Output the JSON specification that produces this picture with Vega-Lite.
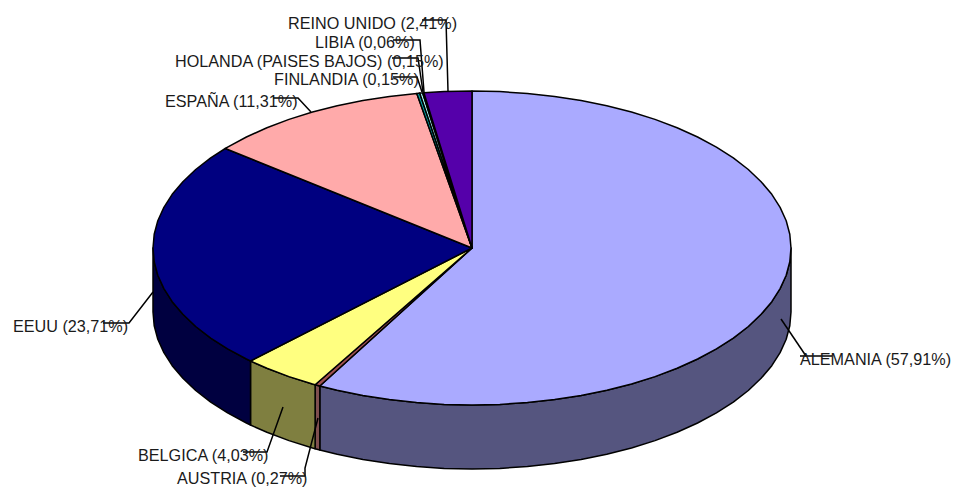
{"$schema":"https://vega.github.io/schema/vega-lite/v6.json","width":956,"height":491,"padding":0,"autosize":{"type":"fit","contains":"padding"},"background":"white","view":{"stroke":null},
"datasets":{
"faces":[
{"part":"ALEMANIA lateral","x":791,"y":248},{"part":"ALEMANIA lateral","x":789.8,"y":261.7},{"part":"ALEMANIA lateral","x":786.2,"y":275.3},{"part":"ALEMANIA lateral","x":780.1,"y":288.6},{"part":"ALEMANIA lateral","x":771.8,"y":301.7},{"part":"ALEMANIA lateral","x":761.1,"y":314.3},{"part":"ALEMANIA lateral","x":748.3,"y":326.5},{"part":"ALEMANIA lateral","x":733.3,"y":338.1},{"part":"ALEMANIA lateral","x":716.4,"y":348.9},{"part":"ALEMANIA lateral","x":697.6,"y":359},{"part":"ALEMANIA lateral","x":677.1,"y":368.3},{"part":"ALEMANIA lateral","x":655,"y":376.6},{"part":"ALEMANIA lateral","x":631.5,"y":384},{"part":"ALEMANIA lateral","x":606.8,"y":390.3},{"part":"ALEMANIA lateral","x":581.1,"y":395.5},{"part":"ALEMANIA lateral","x":554.6,"y":399.6},{"part":"ALEMANIA lateral","x":527.4,"y":402.6},{"part":"ALEMANIA lateral","x":499.8,"y":404.4},{"part":"ALEMANIA lateral","x":472,"y":405},{"part":"ALEMANIA lateral","x":444.2,"y":404.4},{"part":"ALEMANIA lateral","x":416.6,"y":402.6},{"part":"ALEMANIA lateral","x":389.4,"y":399.6},{"part":"ALEMANIA lateral","x":362.9,"y":395.5},{"part":"ALEMANIA lateral","x":337.2,"y":390.3},{"part":"ALEMANIA lateral","x":319.8,"y":386},
{"part":"ALEMANIA lateral","x":319.8,"y":450},{"part":"ALEMANIA lateral","x":337.2,"y":454.3},{"part":"ALEMANIA lateral","x":362.9,"y":459.5},{"part":"ALEMANIA lateral","x":389.4,"y":463.6},{"part":"ALEMANIA lateral","x":416.6,"y":466.6},{"part":"ALEMANIA lateral","x":444.2,"y":468.4},{"part":"ALEMANIA lateral","x":472,"y":469},{"part":"ALEMANIA lateral","x":499.8,"y":468.4},{"part":"ALEMANIA lateral","x":527.4,"y":466.6},{"part":"ALEMANIA lateral","x":554.6,"y":463.6},{"part":"ALEMANIA lateral","x":581.1,"y":459.5},{"part":"ALEMANIA lateral","x":606.8,"y":454.3},{"part":"ALEMANIA lateral","x":631.5,"y":448},{"part":"ALEMANIA lateral","x":655,"y":440.6},{"part":"ALEMANIA lateral","x":677.1,"y":432.3},{"part":"ALEMANIA lateral","x":697.6,"y":423},{"part":"ALEMANIA lateral","x":716.4,"y":412.9},{"part":"ALEMANIA lateral","x":733.3,"y":402.1},{"part":"ALEMANIA lateral","x":748.3,"y":390.5},{"part":"ALEMANIA lateral","x":761.1,"y":378.3},{"part":"ALEMANIA lateral","x":771.8,"y":365.7},{"part":"ALEMANIA lateral","x":780.1,"y":352.6},{"part":"ALEMANIA lateral","x":786.2,"y":339.3},{"part":"ALEMANIA lateral","x":789.8,"y":325.7},{"part":"ALEMANIA lateral","x":791,"y":312},
{"part":"AUSTRIA lateral","x":319.8,"y":386},{"part":"AUSTRIA lateral","x":315.1,"y":384.7},{"part":"AUSTRIA lateral","x":315.1,"y":448.7},{"part":"AUSTRIA lateral","x":319.8,"y":450},
{"part":"BELGICA lateral","x":315.1,"y":384.7},{"part":"BELGICA lateral","x":312.5,"y":384},{"part":"BELGICA lateral","x":289,"y":376.6},{"part":"BELGICA lateral","x":266.9,"y":368.3},{"part":"BELGICA lateral","x":250.5,"y":361},{"part":"BELGICA lateral","x":250.5,"y":425},{"part":"BELGICA lateral","x":266.9,"y":432.3},{"part":"BELGICA lateral","x":289,"y":440.6},{"part":"BELGICA lateral","x":312.5,"y":448},{"part":"BELGICA lateral","x":315.1,"y":448.7},
{"part":"EEUU lateral","x":250.5,"y":361},{"part":"EEUU lateral","x":246.4,"y":359},{"part":"EEUU lateral","x":227.6,"y":348.9},{"part":"EEUU lateral","x":210.7,"y":338.1},{"part":"EEUU lateral","x":195.7,"y":326.5},{"part":"EEUU lateral","x":182.9,"y":314.3},{"part":"EEUU lateral","x":172.2,"y":301.7},{"part":"EEUU lateral","x":163.9,"y":288.6},{"part":"EEUU lateral","x":157.8,"y":275.3},{"part":"EEUU lateral","x":154.2,"y":261.7},{"part":"EEUU lateral","x":153,"y":248},{"part":"EEUU lateral","x":153,"y":312},{"part":"EEUU lateral","x":154.2,"y":325.7},{"part":"EEUU lateral","x":157.8,"y":339.3},{"part":"EEUU lateral","x":163.9,"y":352.6},{"part":"EEUU lateral","x":172.2,"y":365.7},{"part":"EEUU lateral","x":182.9,"y":378.3},{"part":"EEUU lateral","x":195.7,"y":390.5},{"part":"EEUU lateral","x":210.7,"y":402.1},{"part":"EEUU lateral","x":227.6,"y":412.9},{"part":"EEUU lateral","x":246.4,"y":423},{"part":"EEUU lateral","x":250.5,"y":425},
{"part":"ALEMANIA","x":472,"y":248},{"part":"ALEMANIA","x":472,"y":91},{"part":"ALEMANIA","x":499.8,"y":91.6},{"part":"ALEMANIA","x":527.4,"y":93.4},{"part":"ALEMANIA","x":554.6,"y":96.4},{"part":"ALEMANIA","x":581.1,"y":100.5},{"part":"ALEMANIA","x":606.8,"y":105.7},{"part":"ALEMANIA","x":631.5,"y":112},{"part":"ALEMANIA","x":655,"y":119.4},{"part":"ALEMANIA","x":677.1,"y":127.7},{"part":"ALEMANIA","x":697.6,"y":137},{"part":"ALEMANIA","x":716.4,"y":147.1},{"part":"ALEMANIA","x":733.3,"y":157.9},{"part":"ALEMANIA","x":748.3,"y":169.5},{"part":"ALEMANIA","x":761.1,"y":181.7},{"part":"ALEMANIA","x":771.8,"y":194.3},{"part":"ALEMANIA","x":780.1,"y":207.4},{"part":"ALEMANIA","x":786.2,"y":220.7},{"part":"ALEMANIA","x":789.8,"y":234.3},{"part":"ALEMANIA","x":791,"y":248},{"part":"ALEMANIA","x":789.8,"y":261.7},{"part":"ALEMANIA","x":786.2,"y":275.3},{"part":"ALEMANIA","x":780.1,"y":288.6},{"part":"ALEMANIA","x":771.8,"y":301.7},{"part":"ALEMANIA","x":761.1,"y":314.3},{"part":"ALEMANIA","x":748.3,"y":326.5},{"part":"ALEMANIA","x":733.3,"y":338.1},{"part":"ALEMANIA","x":716.4,"y":348.9},{"part":"ALEMANIA","x":697.6,"y":359},{"part":"ALEMANIA","x":677.1,"y":368.3},{"part":"ALEMANIA","x":655,"y":376.6},{"part":"ALEMANIA","x":631.5,"y":384},{"part":"ALEMANIA","x":606.8,"y":390.3},{"part":"ALEMANIA","x":581.1,"y":395.5},{"part":"ALEMANIA","x":554.6,"y":399.6},{"part":"ALEMANIA","x":527.4,"y":402.6},{"part":"ALEMANIA","x":499.8,"y":404.4},{"part":"ALEMANIA","x":472,"y":405},{"part":"ALEMANIA","x":444.2,"y":404.4},{"part":"ALEMANIA","x":416.6,"y":402.6},{"part":"ALEMANIA","x":389.4,"y":399.6},{"part":"ALEMANIA","x":362.9,"y":395.5},{"part":"ALEMANIA","x":337.2,"y":390.3},{"part":"ALEMANIA","x":319.8,"y":386},
{"part":"AUSTRIA","x":472,"y":248},{"part":"AUSTRIA","x":319.8,"y":386},{"part":"AUSTRIA","x":315.1,"y":384.7},
{"part":"BELGICA","x":472,"y":248},{"part":"BELGICA","x":315.1,"y":384.7},{"part":"BELGICA","x":312.5,"y":384},{"part":"BELGICA","x":289,"y":376.6},{"part":"BELGICA","x":266.9,"y":368.3},{"part":"BELGICA","x":250.5,"y":361},
{"part":"EEUU","x":472,"y":248},{"part":"EEUU","x":250.5,"y":361},{"part":"EEUU","x":246.4,"y":359},{"part":"EEUU","x":227.6,"y":348.9},{"part":"EEUU","x":210.7,"y":338.1},{"part":"EEUU","x":195.7,"y":326.5},{"part":"EEUU","x":182.9,"y":314.3},{"part":"EEUU","x":172.2,"y":301.7},{"part":"EEUU","x":163.9,"y":288.6},{"part":"EEUU","x":157.8,"y":275.3},{"part":"EEUU","x":154.2,"y":261.7},{"part":"EEUU","x":153,"y":248},{"part":"EEUU","x":154.2,"y":234.3},{"part":"EEUU","x":157.8,"y":220.7},{"part":"EEUU","x":163.9,"y":207.4},{"part":"EEUU","x":172.2,"y":194.3},{"part":"EEUU","x":182.9,"y":181.7},{"part":"EEUU","x":195.7,"y":169.5},{"part":"EEUU","x":210.7,"y":157.9},{"part":"EEUU","x":225.3,"y":148.5},
{"part":"ESPAÑA","x":472,"y":248},{"part":"ESPAÑA","x":225.3,"y":148.5},{"part":"ESPAÑA","x":227.6,"y":147.1},{"part":"ESPAÑA","x":246.4,"y":137},{"part":"ESPAÑA","x":266.9,"y":127.7},{"part":"ESPAÑA","x":289,"y":119.4},{"part":"ESPAÑA","x":312.5,"y":112},{"part":"ESPAÑA","x":337.2,"y":105.7},{"part":"ESPAÑA","x":362.9,"y":100.5},{"part":"ESPAÑA","x":389.4,"y":96.4},{"part":"ESPAÑA","x":416.8,"y":93.4},
{"part":"FINLANDIA","x":472,"y":248},{"part":"FINLANDIA","x":416.8,"y":93.4},{"part":"FINLANDIA","x":419.7,"y":93.1},
{"part":"HOLANDA","x":472,"y":248},{"part":"HOLANDA","x":419.7,"y":93.1},{"part":"HOLANDA","x":422.7,"y":92.9},
{"part":"LIBIA","x":472,"y":248},{"part":"LIBIA","x":422.7,"y":92.9},{"part":"LIBIA","x":423.9,"y":92.8},
{"part":"REINO UNIDO","x":472,"y":248},{"part":"REINO UNIDO","x":423.9,"y":92.8},{"part":"REINO UNIDO","x":444.2,"y":91.6},{"part":"REINO UNIDO","x":472,"y":91}
],
"leaders":[
{"k":"a","x":781,"y":319},{"k":"a","x":806,"y":356},{"k":"a2","x":800,"y":356},{"k":"a2","x":832,"y":356},
{"k":"e","x":153,"y":292},{"k":"e","x":129,"y":323},{"k":"e","x":103,"y":323},
{"k":"b","x":283,"y":407},{"k":"b","x":267,"y":452},{"k":"b","x":243,"y":452},
{"k":"au","x":318,"y":418},{"k":"au","x":305,"y":468},{"k":"au","x":305,"y":476},{"k":"au","x":280,"y":476},
{"k":"es","x":311,"y":112},{"k":"es","x":298,"y":98},{"k":"es","x":273,"y":98},
{"k":"f","x":422,"y":92},{"k":"f","x":417,"y":77},{"k":"f","x":393,"y":77},
{"k":"h","x":423,"y":92},{"k":"h","x":418,"y":58},{"k":"h","x":392,"y":58},
{"k":"l","x":424,"y":92},{"k":"l","x":420,"y":40},{"k":"l","x":393,"y":40},
{"k":"u","x":448,"y":91},{"k":"u","x":446,"y":20},{"k":"u","x":422,"y":20}
],
"labels":[
{"label":"REINO UNIDO (2,41%)","x":288,"y":23.5},
{"label":"LIBIA (0,06%)","x":315,"y":42.5},
{"label":"HOLANDA (PAISES BAJOS) (0,15%)","x":175,"y":61.5},
{"label":"FINLANDIA (0,15%)","x":274,"y":79.5},
{"label":"ESPAÑA (11,31%)","x":165,"y":101.5},
{"label":"EEUU (23,71%)","x":13,"y":326.5},
{"label":"BELGICA (4,03%)","x":138,"y":455.5},
{"label":"AUSTRIA (0,27%)","x":177,"y":478.5},
{"label":"ALEMANIA (57,91%)","x":800,"y":359.5}
]},
"layer":[
{"data":{"name":"faces"},"mark":{"type":"line","interpolate":"linear-closed","stroke":"black","strokeWidth":1.5,"strokeJoin":"round"},
"encoding":{"x":{"field":"x","type":"quantitative","scale":{"domain":[0,956],"nice":false},"axis":null},"y":{"field":"y","type":"quantitative","scale":{"domain":[491,0],"nice":false,"zero":false},"axis":null},"detail":{"field":"part"},"order":{"value":null},
"fill":{"field":"part","type":"nominal","legend":null,"scale":{"domain":["ALEMANIA lateral","AUSTRIA lateral","BELGICA lateral","EEUU lateral","ALEMANIA","AUSTRIA","BELGICA","EEUU","ESPAÑA","FINLANDIA","HOLANDA","LIBIA","REINO UNIDO"],"range":["#55557F","#7F4F4F","#7F7F40","#000040","#AAAAFF","#A05050","#FFFF80","#000080","#FFAAAA","#00A0A0","#AAFFFF","#5500AA","#5500AA"]}}}},
{"data":{"name":"leaders"},"mark":{"type":"line","stroke":"black","strokeWidth":1.5},
"encoding":{"x":{"field":"x","type":"quantitative","scale":{"domain":[0,956],"nice":false},"axis":null},"y":{"field":"y","type":"quantitative","scale":{"domain":[491,0],"nice":false,"zero":false},"axis":null},"detail":{"field":"k"},"order":{"value":null}}},
{"data":{"name":"labels"},"mark":{"type":"text","align":"left","baseline":"middle","font":"Liberation Sans","fontSize":16.2,"fill":"#1a1a1a"},
"encoding":{"x":{"field":"x","type":"quantitative","scale":{"domain":[0,956],"nice":false},"axis":null},"y":{"field":"y","type":"quantitative","scale":{"domain":[491,0],"nice":false,"zero":false},"axis":null},"text":{"field":"label"}}}
]}
